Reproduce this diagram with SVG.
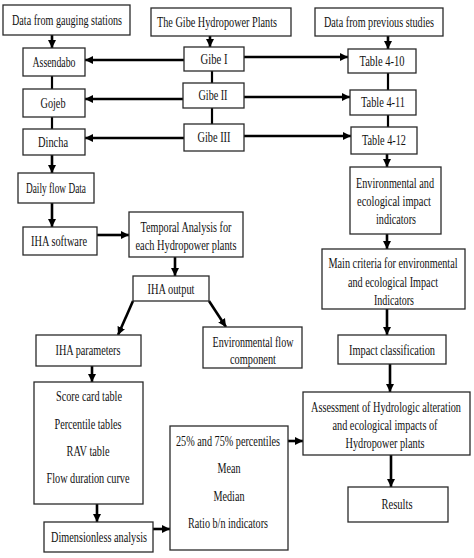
<svg xmlns="http://www.w3.org/2000/svg" width="474" height="558" viewBox="0 0 474 558">
<style>
.b{fill:#fff;stroke:#2a2a2a;stroke-width:1.3}
.t{font-family:"Liberation Serif","Times New Roman",serif;font-size:14px;fill:#111;text-anchor:middle}
.c{stroke:#000;stroke-width:2.6;fill:none}
.l{stroke:#000;stroke-width:2.2;fill:none}
</style>
<defs>
<marker id="ah" markerUnits="userSpaceOnUse" markerWidth="9" markerHeight="9" refX="8" refY="4.5" orient="auto">
<path d="M0,0.5 L8,4.5 L0,8.5 Z" fill="#000"/>
</marker>
</defs>
<rect width="474" height="558" fill="#fff"/>
<g id="connectors">
<line class="c" x1="52" y1="35" x2="52" y2="48" marker-end="url(#ah)"/>
<line class="l" x1="52" y1="76" x2="52" y2="89"/>
<line class="l" x1="52" y1="117" x2="52" y2="129"/>
<line class="c" x1="52" y1="155" x2="52" y2="173" marker-end="url(#ah)"/>
<line class="c" x1="52" y1="203" x2="52" y2="227" marker-end="url(#ah)"/>
<line class="c" x1="97" y1="235" x2="129" y2="235" marker-end="url(#ah)"/>
<line class="c" x1="175" y1="257" x2="175" y2="276" marker-end="url(#ah)"/>
<line class="c" x1="133" y1="301" x2="118" y2="335" marker-end="url(#ah)"/>
<line class="c" x1="209" y1="301" x2="226" y2="327" marker-end="url(#ah)"/>
<line class="c" x1="92" y1="366" x2="92" y2="382" marker-end="url(#ah)"/>
<line class="c" x1="97" y1="504" x2="97" y2="522" marker-end="url(#ah)"/>
<line class="c" x1="153" y1="529" x2="170" y2="529" marker-end="url(#ah)"/>
<line class="c" x1="288" y1="441" x2="303" y2="441" marker-end="url(#ah)"/>
<line class="c" x1="184" y1="60" x2="85" y2="60" marker-end="url(#ah)"/>
<line class="c" x1="183" y1="99" x2="85" y2="99" marker-end="url(#ah)"/>
<line class="c" x1="184" y1="138" x2="85" y2="138" marker-end="url(#ah)"/>
<line class="c" x1="244" y1="57" x2="348" y2="57" marker-end="url(#ah)"/>
<line class="c" x1="244" y1="97" x2="350" y2="97" marker-end="url(#ah)"/>
<line class="c" x1="244" y1="136" x2="351" y2="136" marker-end="url(#ah)"/>
<line class="c" x1="210" y1="36" x2="210" y2="47" marker-end="url(#ah)"/>
<line class="l" x1="212" y1="71" x2="212" y2="83"/>
<line class="l" x1="212" y1="108" x2="212" y2="124"/>
<line class="c" x1="388" y1="36" x2="388" y2="49" marker-end="url(#ah)"/>
<line class="l" x1="388" y1="73" x2="388" y2="90"/>
<line class="l" x1="388" y1="115" x2="388" y2="127"/>
<line class="c" x1="387" y1="154" x2="387" y2="167" marker-end="url(#ah)"/>
<line class="c" x1="387" y1="234" x2="387" y2="249" marker-end="url(#ah)"/>
<line class="c" x1="387" y1="309" x2="387" y2="335" marker-end="url(#ah)"/>
<line class="c" x1="390" y1="364" x2="390" y2="392" marker-end="url(#ah)"/>
<line class="c" x1="391" y1="455" x2="391" y2="487" marker-end="url(#ah)"/>
</g>
<g id="gauging"><rect class="b" x="3" y="5" width="127" height="30"/><text class="t" x="67" y="25" textLength="110" lengthAdjust="spacingAndGlyphs">Data from gauging stations</text></g>
<g id="gibe-title"><rect class="b" x="151" y="8" width="140" height="28"/><text class="t" x="217" y="27" textLength="120" lengthAdjust="spacingAndGlyphs">The Gibe Hydropower Plants</text></g>
<g id="previous"><rect class="b" x="315" y="8" width="128" height="28"/><text class="t" x="379" y="27" textLength="110" lengthAdjust="spacingAndGlyphs">Data from previous studies</text></g>
<g id="assendabo"><rect class="b" x="23" y="48" width="62" height="28"/><text class="t" x="54" y="67" textLength="43" lengthAdjust="spacingAndGlyphs">Assendabo</text></g>
<g id="gojeb"><rect class="b" x="23" y="89" width="62" height="28"/><text class="t" x="53" y="108" textLength="25" lengthAdjust="spacingAndGlyphs">Gojeb</text></g>
<g id="dincha"><rect class="b" x="23" y="129" width="62" height="26"/><text class="t" x="53" y="147" textLength="30" lengthAdjust="spacingAndGlyphs">Dincha</text></g>
<g id="daily"><rect class="b" x="18" y="173" width="76" height="30"/><text class="t" x="56" y="193" textLength="60" lengthAdjust="spacingAndGlyphs">Daily flow Data</text></g>
<g id="gibe1"><rect class="b" x="184" y="47" width="60" height="24"/><text class="t" x="214" y="64" textLength="27" lengthAdjust="spacingAndGlyphs">Gibe I</text></g>
<g id="gibe2"><rect class="b" x="183" y="83" width="61" height="25"/><text class="t" x="213" y="100" textLength="29" lengthAdjust="spacingAndGlyphs">Gibe II</text></g>
<g id="gibe3"><rect class="b" x="184" y="124" width="60" height="27"/><text class="t" x="214" y="142" textLength="33" lengthAdjust="spacingAndGlyphs">Gibe III</text></g>
<g id="t410"><rect class="b" x="348" y="49" width="68" height="24"/><text class="t" x="382" y="66" textLength="45" lengthAdjust="spacingAndGlyphs">Table 4-10</text></g>
<g id="t411"><rect class="b" x="350" y="90" width="66" height="25"/><text class="t" x="383" y="107" textLength="44" lengthAdjust="spacingAndGlyphs">Table 4-11</text></g>
<g id="t412"><rect class="b" x="351" y="127" width="66" height="27"/><text class="t" x="384" y="145" textLength="44" lengthAdjust="spacingAndGlyphs">Table 4-12</text></g>
<g id="env-ind"><rect class="b" x="350" y="167" width="91" height="67"/>
<text class="t" x="395" y="188" textLength="78" lengthAdjust="spacingAndGlyphs">Environmental and</text>
<text class="t" x="394" y="206" textLength="74" lengthAdjust="spacingAndGlyphs">ecological impact</text>
<text class="t" x="396" y="224" textLength="40" lengthAdjust="spacingAndGlyphs">indicators</text></g>
<g id="criteria"><rect class="b" x="322" y="249" width="143" height="60"/>
<text class="t" x="393" y="268" textLength="129" lengthAdjust="spacingAndGlyphs">Main criteria for environmental</text>
<text class="t" x="393" y="287" textLength="90" lengthAdjust="spacingAndGlyphs">and ecological Impact</text>
<text class="t" x="394" y="305" textLength="40" lengthAdjust="spacingAndGlyphs">Indicators</text></g>
<g id="impact"><rect class="b" x="338" y="335" width="108" height="29"/><text class="t" x="392" y="355" textLength="86" lengthAdjust="spacingAndGlyphs">Impact classification</text></g>
<g id="assessment"><rect class="b" x="303" y="392" width="167" height="63"/>
<text class="t" x="386" y="412" textLength="150" lengthAdjust="spacingAndGlyphs">Assessment of Hydrologic alteration</text>
<text class="t" x="385" y="430" textLength="105" lengthAdjust="spacingAndGlyphs">and ecological impacts of</text>
<text class="t" x="385" y="448" textLength="79" lengthAdjust="spacingAndGlyphs">Hydropower plants</text></g>
<g id="results"><rect class="b" x="348" y="487" width="100" height="35"/><text class="t" x="397" y="509" textLength="31" lengthAdjust="spacingAndGlyphs">Results</text></g>
<g id="iha-software"><rect class="b" x="23" y="227" width="74" height="28"/><text class="t" x="59" y="246" textLength="56" lengthAdjust="spacingAndGlyphs">IHA software</text></g>
<g id="temporal"><rect class="b" x="129" y="212" width="114" height="45"/>
<text class="t" x="186" y="232" textLength="91" lengthAdjust="spacingAndGlyphs">Temporal Analysis for</text>
<text class="t" x="186" y="250" textLength="101" lengthAdjust="spacingAndGlyphs">each Hydropower plants</text></g>
<g id="iha-output"><rect class="b" x="133" y="276" width="76" height="25"/><text class="t" x="171" y="294" textLength="47" lengthAdjust="spacingAndGlyphs">IHA output</text></g>
<g id="iha-params"><rect class="b" x="36" y="335" width="105" height="31"/><text class="t" x="88" y="355" textLength="65" lengthAdjust="spacingAndGlyphs">IHA parameters</text></g>
<g id="env-flow"><rect class="b" x="203" y="327" width="99" height="41"/>
<text class="t" x="253" y="347" textLength="81" lengthAdjust="spacingAndGlyphs">Environmental flow</text>
<text class="t" x="253" y="364" textLength="46" lengthAdjust="spacingAndGlyphs">component</text></g>
<g id="scorecard"><rect class="b" x="34" y="382" width="109" height="122"/>
<text class="t" x="89" y="401" textLength="66" lengthAdjust="spacingAndGlyphs">Score card table</text>
<text class="t" x="88" y="429" textLength="67" lengthAdjust="spacingAndGlyphs">Percentile tables</text>
<text class="t" x="88" y="456" textLength="43" lengthAdjust="spacingAndGlyphs">RAV table</text>
<text class="t" x="88" y="483" textLength="83" lengthAdjust="spacingAndGlyphs">Flow duration curve</text></g>
<g id="dimensionless"><rect class="b" x="44" y="522" width="109" height="30"/><text class="t" x="99" y="542" textLength="96" lengthAdjust="spacingAndGlyphs">Dimensionless analysis</text></g>
<g id="percentiles"><rect class="b" x="170" y="426" width="118" height="124"/>
<text class="t" x="228" y="446" textLength="104" lengthAdjust="spacingAndGlyphs">25% and 75% percentiles</text>
<text class="t" x="229" y="473" textLength="23" lengthAdjust="spacingAndGlyphs">Mean</text>
<text class="t" x="229" y="501" textLength="31" lengthAdjust="spacingAndGlyphs">Median</text>
<text class="t" x="228" y="528" textLength="80" lengthAdjust="spacingAndGlyphs">Ratio b/n indicators</text></g>
</svg>
